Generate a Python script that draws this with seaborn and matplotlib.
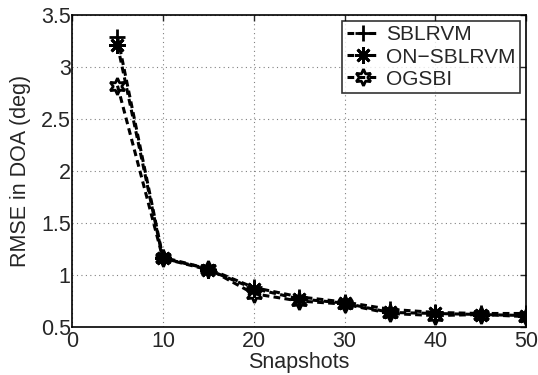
import numpy as np
import pandas as pd
import matplotlib
matplotlib.use("Agg")
import matplotlib.pyplot as plt
import seaborn as sns

snapshots = [5, 10, 15, 20, 25, 30, 35, 40, 45, 50]
sblrvm = [3.29, 1.17, 1.06, 0.88, 0.79, 0.74, 0.67, 0.64, 0.63, 0.63]
on_sblrvm = [3.21, 1.16, 1.05, 0.87, 0.77, 0.73, 0.64, 0.63, 0.62, 0.61]
ogsbi = [2.82, 1.16, 1.06, 0.82, 0.75, 0.72, 0.63, 0.61, 0.62, 0.60]

series = {"SBLRVM": sblrvm, "ON\u2212SBLRVM": on_sblrvm, "OGSBI": ogsbi}
markers = {"SBLRVM": "+", "ON\u2212SBLRVM": (8, 2, 0), "OGSBI": (6, 1, 0)}

df = pd.concat([pd.DataFrame({"Snapshots": snapshots, "RMSE": v, "Method": k})
                for k, v in series.items()])

sns.set_style("white")
plt.rcParams['font.family'] = ['Liberation Sans', 'DejaVu Sans']

fig = plt.figure(figsize=(5.38, 3.75), dpi=100)
ax = fig.add_axes([0.134, 0.128, 0.844, 0.832])

for name in series:
    d = df[df["Method"] == name]
    sns.lineplot(data=d, x="Snapshots", y="RMSE", ax=ax, color="black",
                 linestyle=(0, (2.2, 1.4)), linewidth=2.2, marker=markers[name],
                 markersize=12, markeredgewidth=2, markeredgecolor="black",
                 markerfacecolor="none" if name == "OGSBI" else "black",
                 label=name)

ax.set_xlim(0, 50)
ax.set_ylim(0.5, 3.5)
ax.set_xticks(np.arange(0, 51, 10))
ax.set_yticks(np.arange(0.5, 3.51, 0.5))
ax.set_yticklabels(["0.5", "1", "1.5", "2", "2.5", "3", "3.5"])
ax.grid(True, linestyle=(0, (1, 3)), color="gray", linewidth=0.8)
ax.tick_params(direction="in", labelsize=15.5, length=4, width=1,
               top=True, right=True, pad=3)
ax.tick_params(axis="y", pad=1)
for s in ax.spines.values():
    s.set_color("black")
    s.set_linewidth(1.2)
ax.set_xlabel("Snapshots", fontsize=15.5, labelpad=0)
ax.set_ylabel("RMSE in DOA (deg)", fontsize=15.5, labelpad=7)

leg = ax.legend(loc="upper right", fontsize=15, frameon=True, fancybox=False,
                handlelength=1.6, handletextpad=0.3, borderpad=0.2,
                labelspacing=0.15, borderaxespad=0.3)
leg.get_frame().set_edgecolor("black")
leg.get_frame().set_linewidth(1.2)

fig.savefig("out.png", dpi=100)
